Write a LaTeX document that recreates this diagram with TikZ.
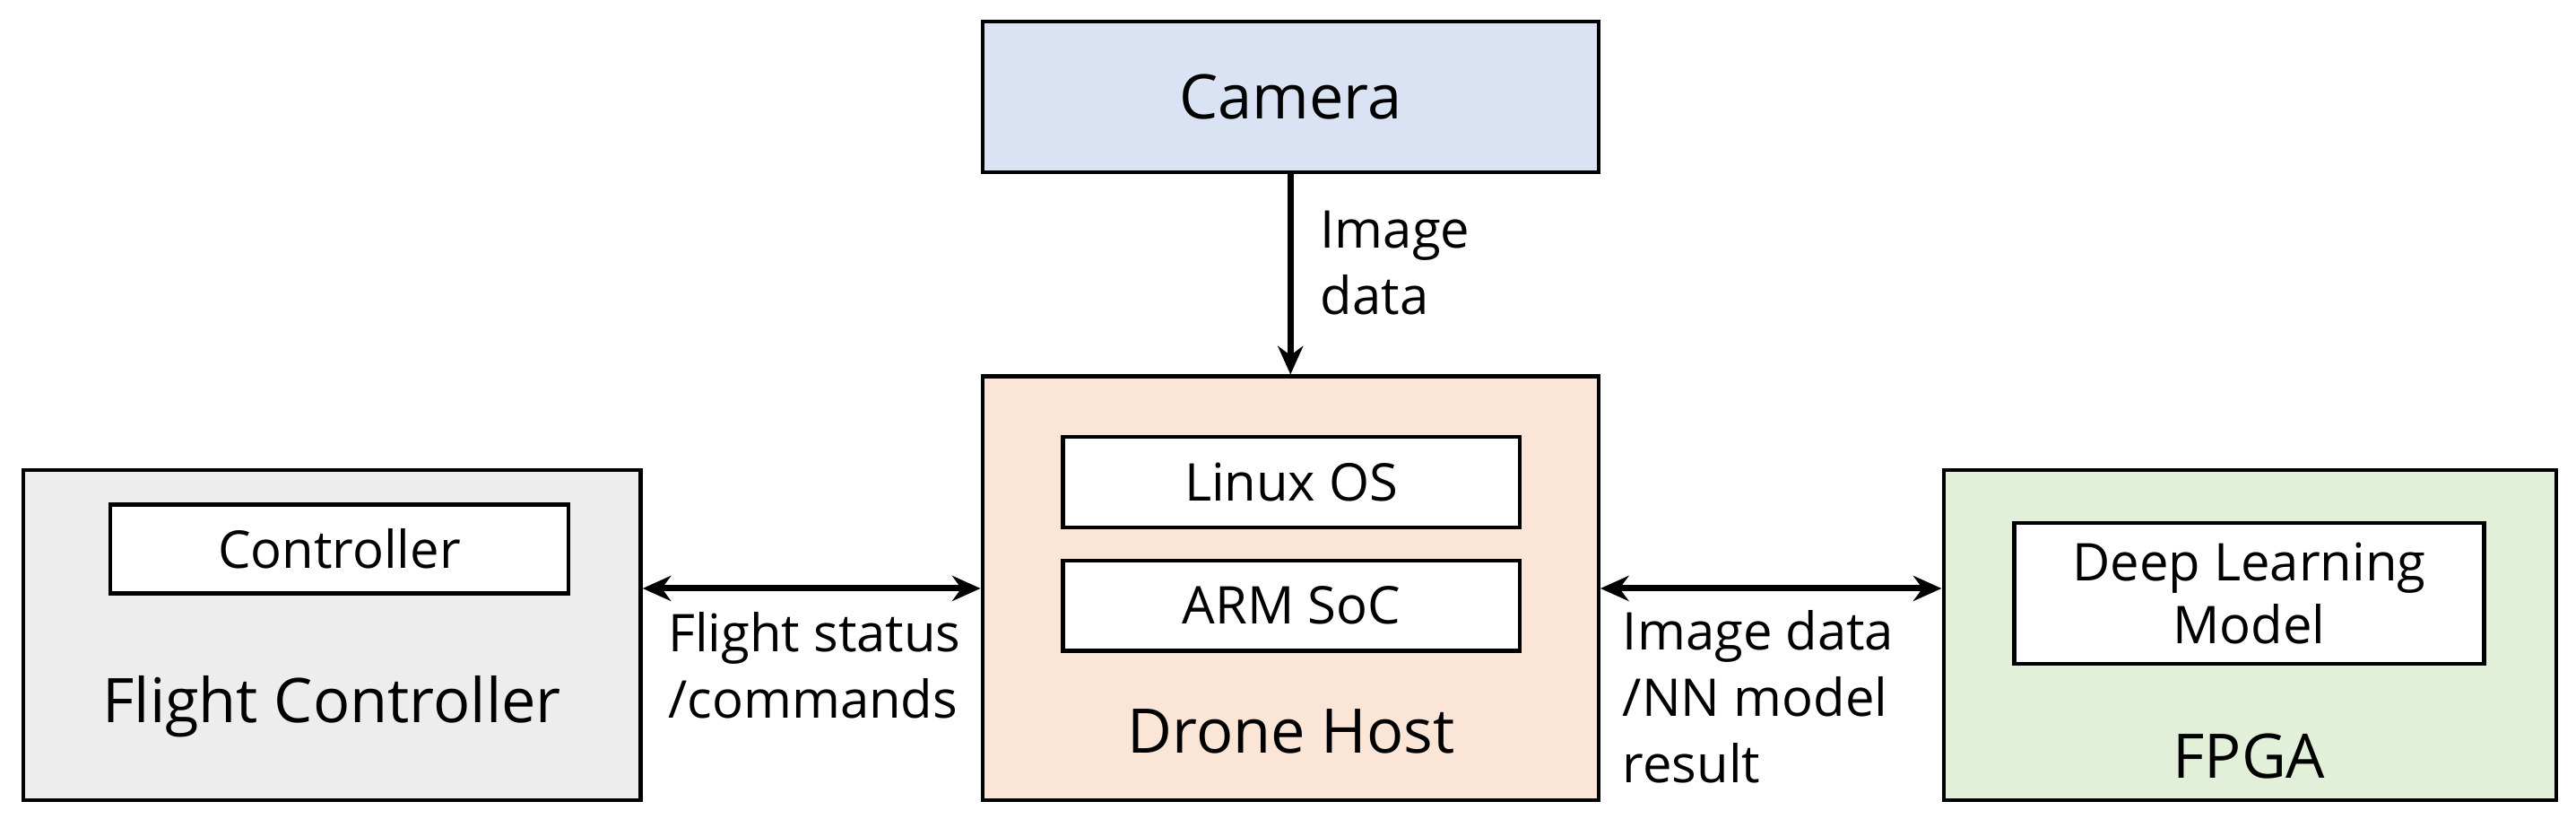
\documentclass[tikz,border=0pt]{standalone}
\usepackage{fontspec}
\setmainfont{Open Sans}
\usetikzlibrary{arrows.meta}
\begin{document}
\begin{tikzpicture}[x=0.01832cm,y=-0.01832cm,
 box/.style={draw=black,line width=1.2pt,inner sep=0pt},
 lab/.style={font=\fontsize{16.5}{21}\selectfont,align=left,anchor=west},
 arr/.style={line width=2pt,-{Stealth[length=9pt,width=8pt]}},
 darr/.style={line width=2pt,{Stealth[length=9pt,width=8pt]}-{Stealth[length=9pt,width=8pt]}}]
\useasboundingbox (0,0) rectangle (1568,498);
\definecolor{cam}{HTML}{DAE3F3}\definecolor{host}{HTML}{FBE5D6}
\definecolor{fc}{HTML}{EDEDED}\definecolor{fpga}{HTML}{E2F0D9}
\node[box,fill=cam,minimum width=375*0.01832cm,minimum height=92*0.01832cm,font=\fontsize{19.5}{23}\selectfont] (cam) at (785.5,59) {Camera};
\node[box,fill=host,minimum width=375*0.01832cm,minimum height=258*0.01832cm] (host) at (785.5,358) {};
\node[box,fill=fc,minimum width=376*0.01832cm,minimum height=201*0.01832cm] (fc) at (202,386.5) {};
\node[box,fill=fpga,minimum width=373*0.01832cm,minimum height=201*0.01832cm] (fpga) at (1369.5,386.5) {};
\node[box,fill=white,minimum width=278*0.01832cm,minimum height=55*0.01832cm,font=\fontsize{16.5}{20}\selectfont] (linux) at (786,293.5) {Linux OS};
\node[box,fill=white,minimum width=278*0.01832cm,minimum height=55*0.01832cm,font=\fontsize{16.5}{20}\selectfont] (arm) at (786,368.5) {ARM SoC};
\node[box,fill=white,minimum width=279*0.01832cm,minimum height=54*0.01832cm,font=\fontsize{16.5}{20}\selectfont] (ctrl) at (206.5,334) {Controller};
\node[box,fill=white,minimum width=286*0.01832cm,minimum height=86*0.01832cm,align=center,font=\fontsize{16.5}{20}\selectfont] (dl) at (1369,361) {Deep Learning\\Model};
\node[font=\fontsize{19.5}{23}\selectfont] (hostl) at (786,445) {Drone Host};
\node[font=\fontsize{19.5}{23}\selectfont] (fcl) at (202,430) {Flight Controller};
\node[font=\fontsize{19.5}{23}\selectfont] (fpgal) at (1369,460) {FPGA};
\draw[arr] (cam.south) -- (host.north);
\draw[darr] (fc.east |- 0,358) -- (host.west |- 0,358);
\draw[darr] (host.east |- 0,358) -- (fpga.west |- 0,358);
\node[lab] (l1) at (797,160) {Image\\data};
\node[lab] (l2) at (400,405) {Flight status\\/commands};
\node[lab] (l3) at (981,424) {Image data\\/NN model\\result};
\end{tikzpicture}
\end{document}
